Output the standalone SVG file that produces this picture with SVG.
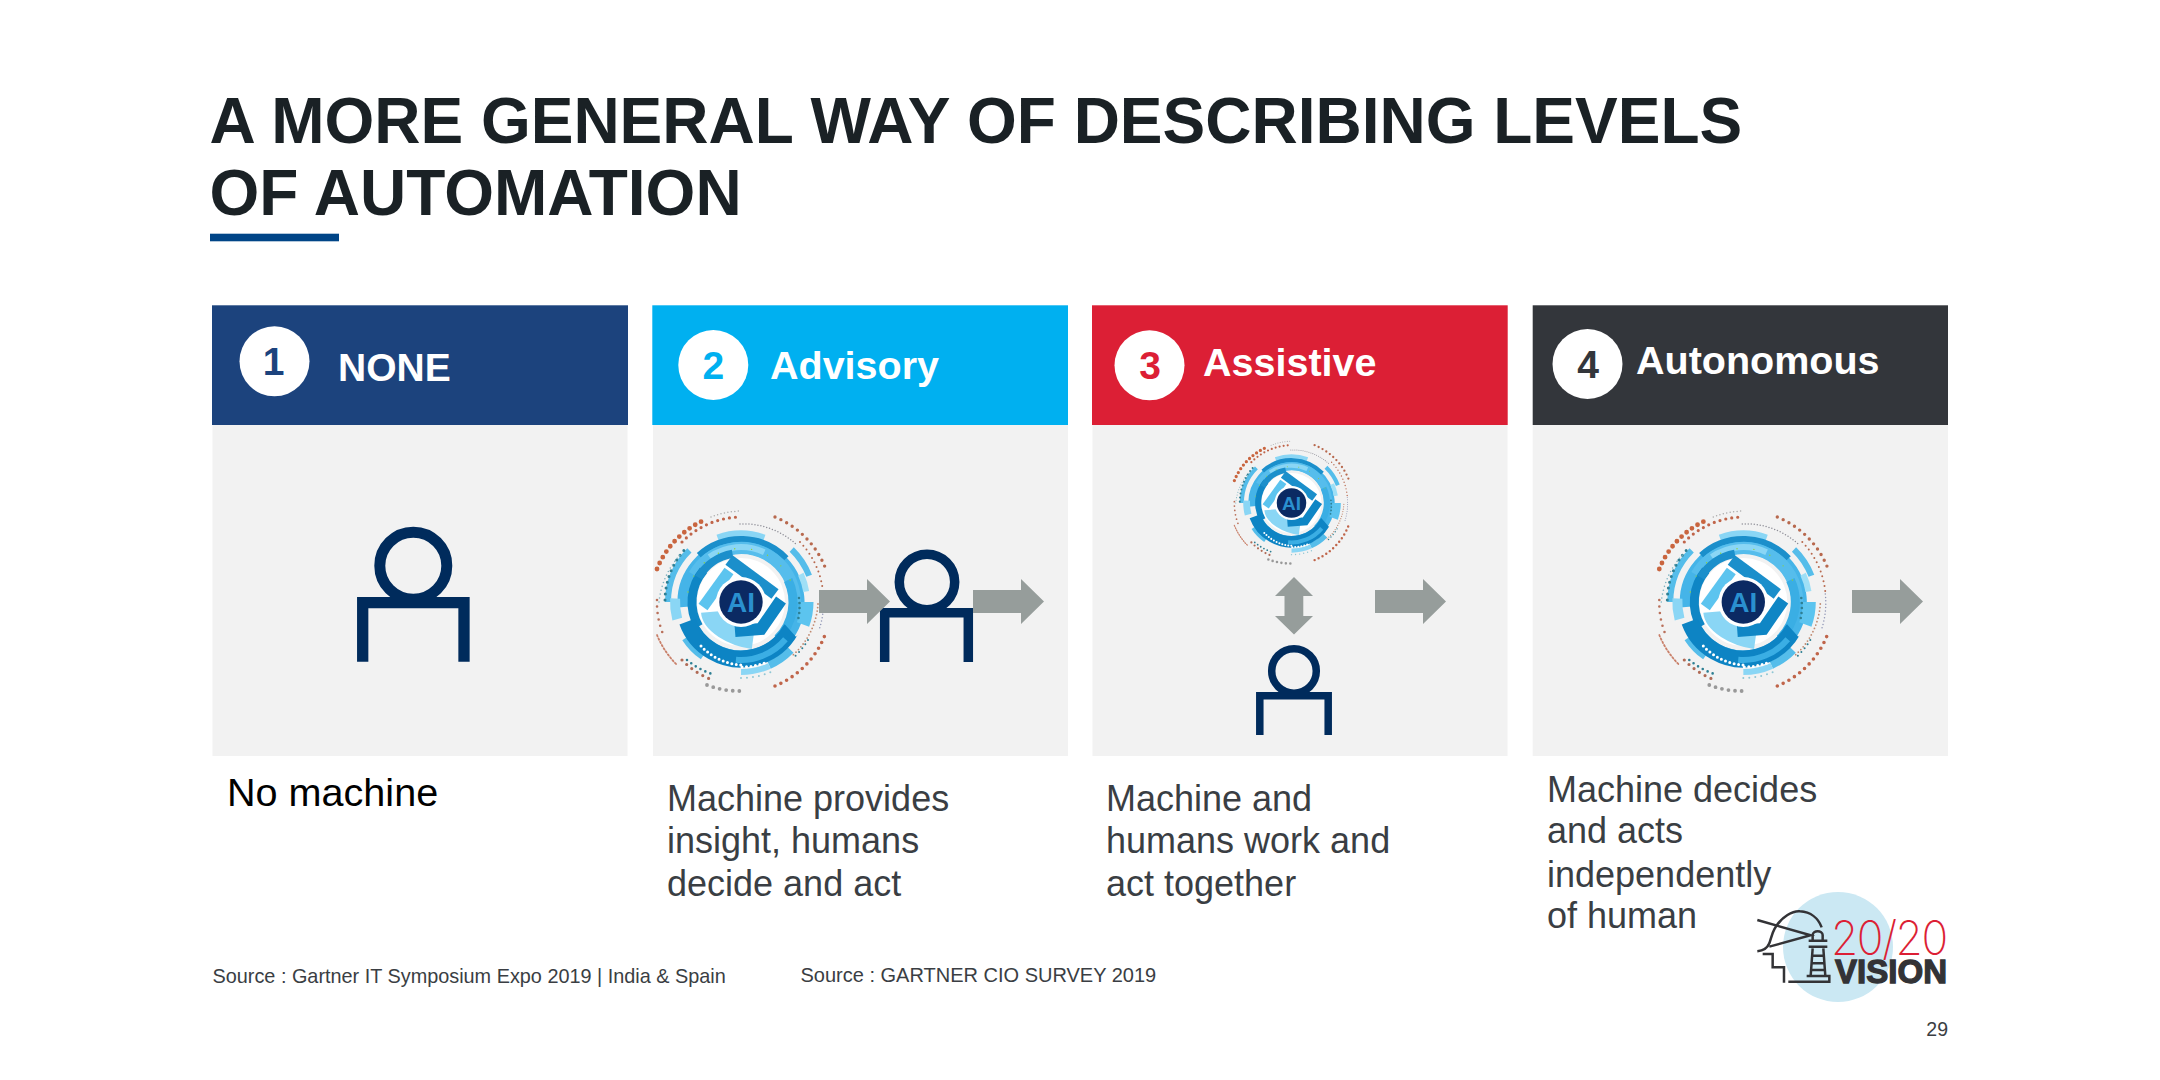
<svg xmlns="http://www.w3.org/2000/svg" width="2160" height="1080" viewBox="0 0 2160 1080">
<style>
text{font-family:"Liberation Sans",Arial,sans-serif}
.title{font-size:64px;font-weight:700;fill:#1a2125}
.hd{font-size:39.5px;font-weight:700;fill:#fff}
.num{font-size:39px;font-weight:700;text-anchor:middle}
.body{font-size:36px;fill:#3a3e43}
.src{font-size:19.85px;fill:#3a3e43}
.panel{fill:#f2f2f2}
.person{fill:none;stroke:#002b5c}
.arr{fill:#969d9b}
.ai{font-weight:700;fill:#2a90cf;text-anchor:middle}
.b{fill:none}
.d{fill:none;stroke-linecap:round}
.lg{fill:none;stroke:#333336;stroke-width:7.5}
</style>
<defs>
<polygon id="arrow" class="arr" points="0,-11.5 48,-11.5 48,-22.5 71,0 48,22.5 48,11.5 0,11.5"/>
<g id="emblem">
<circle r="44" fill="#fff"/>
<g class="b">
<circle class="b" r="56" stroke="#45b4e8" stroke-width="15" pathLength="360" stroke-dasharray="335 25" transform="rotate(175)"/>
<circle class="b" r="68" stroke="#8ad6f5" stroke-width="7" pathLength="360" stroke-dasharray="40 320" transform="rotate(-110)"/>
<circle class="b" r="73" stroke="#55bdea" stroke-width="6" pathLength="360" stroke-dasharray="25 335" transform="rotate(-46)"/>
<circle class="b" r="73" stroke="#55bdea" stroke-width="6" pathLength="360" stroke-dasharray="45 315" transform="rotate(-180)"/>
<circle class="b" r="66" stroke="#5cc4ef" stroke-width="13" pathLength="360" stroke-dasharray="20 340" transform="rotate(0)"/>
<circle class="b" r="66" stroke="#9fdff6" stroke-width="6" pathLength="360" stroke-dasharray="16 344" transform="rotate(-25)"/>
<circle class="b" r="69" stroke="#55bdea" stroke-width="8" pathLength="360" stroke-dasharray="22 338" transform="rotate(44)"/>
<circle class="b" r="70" stroke="#8ad6f5" stroke-width="6" pathLength="360" stroke-dasharray="24 336" transform="rotate(66)"/>
<circle class="b" r="66" stroke="#8ad6f5" stroke-width="10" pathLength="360" stroke-dasharray="18 342" transform="rotate(165)"/>
<circle class="b" r="66" stroke="#55bdea" stroke-width="8" pathLength="360" stroke-dasharray="22 338" transform="rotate(125)"/>
<circle class="b" r="63" stroke="#1b8fcb" stroke-width="6" pathLength="360" stroke-dasharray="88 272" transform="rotate(-132)"/>
<circle class="b" r="54" stroke="#56bdec" stroke-width="12" pathLength="360" stroke-dasharray="150 210" transform="rotate(-150)"/>
<circle class="b" r="55" stroke="#8ad6f5" stroke-width="6" pathLength="360" stroke-dasharray="60 300" transform="rotate(-125)"/>
<circle class="b" r="49" stroke="#0f86c5" stroke-width="9" pathLength="360" stroke-dasharray="70 290" transform="rotate(150)"/>
<circle class="b" r="49" stroke="#1b8fcb" stroke-width="8" pathLength="360" stroke-dasharray="50 310" transform="rotate(-150)"/>
<circle class="b" r="52" stroke="#3aaee4" stroke-width="9" pathLength="360" stroke-dasharray="70 290" transform="rotate(-25)"/>
<circle class="b" r="57" stroke="#0d84c4" stroke-width="17" pathLength="360" stroke-dasharray="130 230" transform="rotate(30)"/>
<circle class="b" r="58" stroke="#3aaee4" stroke-width="6" pathLength="360" stroke-dasharray="55 305" transform="rotate(40)"/>
</g>
<path class="b" stroke="#8ad6f5" stroke-width="18" d="M-31,10C-30,22 -10,35 12,38"/>
<path class="b" stroke="#5cc4ef" stroke-width="11" d="M-38,5L-12,-31"/>
<path class="b" stroke="#1b8fcb" stroke-width="12" d="M-12,-42L34,-8"/>
<path class="b" stroke="#0f86c5" stroke-width="12" d="M40,-2L20,27L-6,29"/>
<path class="d" stroke="#c9653f" stroke-width="4.8" stroke-dasharray="0 6.6" d="M-84,-33A90,90 0 0 1 -34,-83"/>
<path class="d" stroke="#aaa" stroke-width="1.5" stroke-dasharray="0 3.5" d="M-30,-85A90,90 0 0 1 0,-91"/>
<path class="d" stroke="#c0654a" stroke-width="3.2" stroke-dasharray="0 6" d="M-59,-60A84,84 0 0 1 0,-85"/>
<path class="d" stroke="#b8694e" stroke-width="3.4" stroke-dasharray="0 6.5" d="M34,-85A91,91 0 0 1 84,-35"/>
<path class="d" stroke="#b8694e" stroke-width="2" stroke-dasharray="0 5" d="M59,-60A84,84 0 0 1 82,-10"/>
<path class="d" stroke="#8f8f98" stroke-width="1.5" stroke-dasharray="0 3" d="M-1,-78A78,78 0 0 1 56,-57"/>
<path class="d" stroke="#c0654a" stroke-width="3.6" stroke-dasharray="0 6.5" d="M34,84A91,91 0 0 0 84,33"/>
<path class="d" stroke="#c9806a" stroke-width="1.8" stroke-dasharray="1.5 2.2" d="M-84,33A91,91 0 0 0 -64,63"/>
<path class="d" stroke="#b06a55" stroke-width="3.2" stroke-dasharray="0 6.5" d="M-59,58A83,83 0 0 0 -31,77"/>
<path class="d" stroke="#999" stroke-width="3.8" stroke-dasharray="0 6.6" d="M-34,83A90,90 0 0 0 0,89"/>
<path class="d" stroke="#b9705a" stroke-width="2.6" stroke-dasharray="0 6.5" d="M-84,-2A84,84 0 0 0 -78,32"/>
<path class="d" stroke="#c08a70" stroke-width="1.8" stroke-dasharray="0 3.6" d="M77,2A75,75 0 0 1 52,53"/>
<path class="d" stroke="#8f95b5" stroke-width="1.5" stroke-dasharray="0 3.4" d="M82,-8A83,83 0 0 1 78,28"/>
<path class="d" stroke="#2e7f93" stroke-width="3" stroke-dasharray="0 6" d="M-76,-2A77,77 0 0 1 -54,-55"/>
<path class="d" stroke="#7fb3c0" stroke-width="1.6" stroke-dasharray="0 4" d="M-82,0A82,82 0 0 1 -60,-48"/>
<path class="d" stroke="#2e7f93" stroke-width="2.6" stroke-dasharray="0 5.4" d="M-54,58A78,78 0 0 0 -29,72"/>
<path class="d" stroke="#2e7f93" stroke-width="2.6" stroke-dasharray="0 5" d="M58,-4A60,60 0 0 1 57,18"/>
<path class="d" stroke="#2e7f93" stroke-width="2" stroke-dasharray="0 5" d="M67,38A76,76 0 0 1 52,56"/>
<path class="d" stroke="#8fc6d4" stroke-width="2" stroke-dasharray="0 6" d="M0,76A76,76 0 0 0 30,70"/>
<path class="d" stroke="#fff" stroke-width="3" stroke-dasharray="0 4.5" d="M-40,44A60,60 0 0 0 0,63"/>
<path class="d" stroke="#fff" stroke-width="3" stroke-dasharray="0 4.5" d="M1,65A65,65 0 0 0 26,60"/>
<path class="d" stroke="#8fd13a" stroke-width="1.4" stroke-dasharray="0 17" d="M-53,-10A54,54 0 0 1 53,-10"/>
<circle r="25" fill="#fff"/>
<circle r="21.7" fill="#0b2a63"/>
</g>
</defs>
<rect width="2160" height="1080" fill="#fff"/>
<g id="title">
<text class="title" x="209.5" y="143">A MORE GENERAL WAY OF DESCRIBING LEVELS</text>
<text class="title" x="209.5" y="214.7">OF AUTOMATION</text>
<rect x="210" y="233.7" width="129" height="7.6" fill="#004587"/>
</g>
<g id="node-1">
<rect class="panel" x="212.5" y="425" width="415" height="331"/>
<rect x="212" y="305.3" width="416" height="119.7" fill="#1c437d"/>
<circle cx="274.5" cy="361.3" r="35" fill="#fff"/>
<text class="num" x="273.5" y="375" fill="#1c437d">1</text>
<text class="hd" x="338" y="380.5" style="font-size:39px">NONE</text>
<g class="person"><circle cx="413.3" cy="565.7" r="33.5" stroke-width="11"/><path d="M362.7,661.7V602.7H464V661.7" stroke-width="11.3"/></g>
<text x="227" y="806" font-size="39.6" fill="#000">No machine</text>
</g>
<g id="node-2">
<rect class="panel" x="653" y="425" width="415" height="331"/>
<rect x="652.3" y="305.3" width="415.7" height="119.7" fill="#00b0f0"/>
<circle cx="713.3" cy="365" r="35" fill="#fff"/>
<text class="num" x="713.3" y="378.7" fill="#00b0f0">2</text>
<text class="hd" x="770" y="379">Advisory</text>
<use href="#emblem" x="741" y="602"/>
<text class="ai" x="741" y="612" font-size="28">AI</text>
<g class="person"><circle cx="927" cy="582" r="27.7" stroke-width="9.5"/><path d="M884.7,662V612.7H968.3V662" stroke-width="9.5"/></g>
<text class="body" x="667" y="811">Machine provides</text>
<text class="body" x="667" y="852.5">insight, humans</text>
<text class="body" x="667" y="896">decide and act</text>
</g>
<g id="node-3">
<rect class="panel" x="1092.5" y="425" width="415" height="331"/>
<rect x="1092" y="305.3" width="415.7" height="119.7" fill="#dc1f35"/>
<circle cx="1149.5" cy="365.3" r="35" fill="#fff"/>
<text class="num" x="1150" y="379.3" fill="#dc1f35">3</text>
<text class="hd" x="1203" y="376">Assistive</text>
<use href="#emblem" transform="translate(1291.5 503) scale(.68)"/>
<text class="ai" x="1291.5" y="510" font-size="19">AI</text>
<g class="person"><circle cx="1294" cy="671" r="22.3" stroke-width="7.5"/><path d="M1259.8,735V695.8H1328.2V735" stroke-width="7.5"/></g>
<text class="body" x="1106" y="811">Machine and</text>
<text class="body" x="1106" y="852.5">humans work and</text>
<text class="body" x="1106" y="896">act together</text>
</g>
<g id="node-4">
<rect class="panel" x="1532.7" y="425" width="415.3" height="331"/>
<rect x="1532.7" y="305.3" width="415.3" height="119.7" fill="#33363b"/>
<circle cx="1587.5" cy="364" r="35" fill="#fff"/>
<text class="num" x="1588" y="377.7" fill="#33363b">4</text>
<text class="hd" x="1636" y="374">Autonomous</text>
<use href="#emblem" x="1743.3" y="602"/>
<text class="ai" x="1743.3" y="612" font-size="28">AI</text>
<text class="body" x="1547" y="801.7">Machine decides</text>
<text class="body" x="1547" y="842.7">and acts</text>
<text class="body" x="1547" y="887">independently</text>
<text class="body" x="1547" y="928">of human</text>
</g>
<g id="connectors">
<use href="#arrow" x="819" y="601.5"/>
<use href="#arrow" x="973" y="601.5"/>
<use href="#arrow" x="1375" y="601.5"/>
<use href="#arrow" x="1852" y="601.5"/>
<polygon class="arr" points="1294,577 1313,596 1303.3,596 1303.3,616 1313,616 1294,634.5 1275,616 1284.5,616 1284.5,596 1275,596"/>
</g>
<g id="sources">
<text class="src" x="212.5" y="983">Source : Gartner IT Symposium Expo 2019 | India &amp; Spain</text>
<text class="src" x="800.5" y="981.7" style="font-size:20px">Source : GARTNER CIO SURVEY 2019</text>
</g>
<g id="logo">
<circle cx="1838" cy="947" r="55" fill="#cbe8f3"/>
<g transform="translate(1740 880) scale(.3333)">
<path class="lg" d="M52,120L212,166L88,200"/>
<path class="lg" d="M52,214C72,212 82,205 88,190C94,172 96,160 104,146C125,108 160,92 180,94C212,96 235,115 245,142"/>
<path class="lg" d="M68,222H98V262H132V308M145,305H268V288H200"/>
<path class="lg" d="M218,180V165C218,150 248,150 248,165V180M206,182H262M206,200H262M218,205L212,288M250,205L256,288M216,227H252M214,250H254M212,270H256"/>
</g>
<text transform="translate(1831 955) scale(.94 1)" font-size="47" font-weight="200" letter-spacing="-1.5" style="font-family:Inter,'Liberation Sans',sans-serif" fill="#dc1f35">20/20</text>
<text x="1835" y="983.3" font-size="33.5" font-weight="700" textLength="112" lengthAdjust="spacingAndGlyphs" fill="#333336" stroke="#333336" stroke-width="1.3">VISION</text>
</g>
<text id="page" x="1948" y="1036" font-size="19.5" fill="#3a3e43" text-anchor="end">29</text>
</svg>
